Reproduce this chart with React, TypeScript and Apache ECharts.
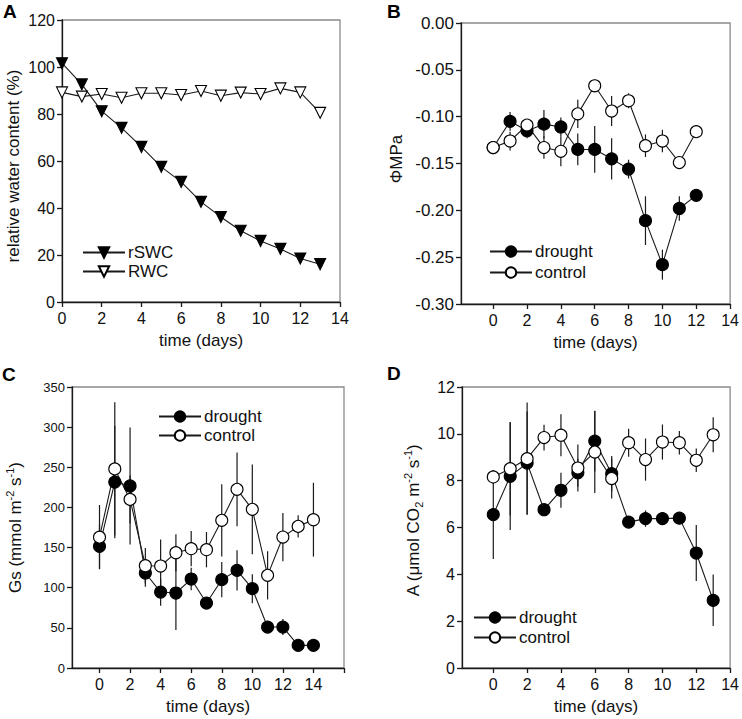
import React, { useEffect, useRef } from 'react';
import * as echarts from 'echarts';

// ---------- Panel A ----------
const daysA = [0, 1, 2, 3, 4, 5, 6, 7, 8, 9, 10, 11, 12, 13];
const rSWC = [101.6, 92.6, 81.2, 74.1, 66.0, 57.5, 51.1, 42.6, 36.2, 30.3, 26.0, 22.6, 18.5, 16.1];
const RWC = [89.2, 87.4, 88.5, 86.9, 88.8, 88.8, 88.1, 89.8, 87.8, 89.1, 88.5, 90.9, 89.2, 80.5];

// ---------- Panel B ----------
const daysB = [0, 1, 2, 3, 4, 5, 6, 7, 8, 9, 10, 11, 12];
const bDrought = [-0.133, -0.105, -0.115, -0.108, -0.111, -0.135, -0.135, -0.145, -0.156, -0.211, -0.258, -0.198, -0.184];
const bDroughtErr = [0.005, 0.01, 0.008, 0.015, 0.01, 0.017, 0.025, 0.022, 0.01, 0.026, 0.016, 0.013, 0.004];
const bControl = [-0.133, -0.126, -0.109, -0.133, -0.137, -0.097, -0.067, -0.094, -0.083, -0.131, -0.126, -0.149, -0.116];
const bControlErr = [0.004, 0.01, 0.004, 0.012, 0.016, 0.015, 0.007, 0.016, 0.008, 0.012, 0.012, 0.004, 0.003];

// ---------- Panel C ----------
const daysC = [0, 1, 2, 3, 4, 5, 6, 7, 8, 9, 10, 11, 12, 13, 14];
const cDrought = [151.5, 231.6, 226.7, 118.3, 94.6, 93.4, 110.8, 80.9, 110, 121.6, 98.8, 51, 51, 28.2, 28.2];
const cDroughtErr = [28, 70, 73, 17, 17, 46, 14, 5, 22, 25, 18, 5, 10, 3, 3];
const cControl = [163, 248, 210, 127.4, 127, 143.6, 148.6, 147.4, 183.9, 222.5, 197.6, 115.4, 163.1, 176.4, 184.7];
const cControlErr = [40, 83, 30, 22, 33, 23, 22, 22, 45, 46, 56, 30, 30, 14, 46];

// ---------- Panel D ----------
const daysD = [0, 1, 2, 3, 4, 5, 6, 7, 8, 9, 10, 11, 12, 13];
const dDrought = [6.55, 8.19, 8.75, 6.76, 7.59, 8.34, 9.69, 8.3, 6.23, 6.38, 6.38, 6.4, 4.91, 2.89];
const dDroughtErr = [1.9, 2.3, 2.2, 0.2, 0.75, 0.6, 1.3, 0.75, 0.15, 0.35, 0.2, 0.2, 1.2, 1.1];
const dControl = [8.16, 8.51, 8.94, 9.84, 9.94, 8.54, 9.22, 8.09, 9.62, 8.9, 9.65, 9.62, 8.87, 9.96];
const dControlErr = [0.3, 2.0, 2.4, 0.55, 0.9, 1.0, 1.75, 0.85, 0.6, 0.9, 0.75, 0.5, 0.5, 0.75];

const xTicks14 = [0, 2, 4, 6, 8, 10, 12, 14];
const xTicksC = [0, 2, 4, 6, 8, 10, 12, 14, 16];

const FONT = "'Liberation Sans', Arial, Helvetica, sans-serif";
const INK = '#1a1a1a';

const pts = (xs: number[], ys: number[]) => xs.map((x, i) => [x, ys[i]]);
const errs = (xs: number[], ys: number[], e: number[]) => xs.map((x, i) => [x, ys[i] - e[i], ys[i] + e[i]]);

const errRender = (_p: any, api: any) => {
  const x = api.value(0);
  const a = api.coord([x, api.value(1)]);
  const b = api.coord([x, api.value(2)]);
  return {
    type: 'line',
    shape: { x1: a[0], y1: a[1], x2: b[0], y2: b[1] },
    style: { stroke: INK, lineWidth: 1.2 },
  };
};

const errSeries = (idx: number, data: number[][]) => ({
  type: 'custom',
  xAxisIndex: idx,
  yAxisIndex: idx,
  renderItem: errRender,
  encode: { x: 0, y: [1, 2] },
  data,
  silent: true,
  z: 1,
});

const lineSeries = (idx: number, name: string, data: number[][], filled: boolean, symbol = 'circle', size = 12, rotate = 0) => ({
  type: 'line',
  name,
  xAxisIndex: idx,
  yAxisIndex: idx,
  data,
  symbol,
  symbolSize: size,
  symbolRotate: rotate,
  showAllSymbol: true,
  lineStyle: { color: INK, width: 1.1 },
  itemStyle: { color: filled ? '#000' : '#fff', borderColor: '#000', borderWidth: 1.1 },
  z: 3,
});

const axisCommon = {
  type: 'value',
  axisLine: { show: true, onZero: false, lineStyle: { color: INK, width: 1.3 } },
  axisTick: { show: true, inside: false, length: 5, lineStyle: { color: INK, width: 1.3 } },
  splitLine: { show: false },
  nameLocation: 'middle',
};

const xAxisFor = (idx: number, min: number, max: number, labels: number[], ticks: number[]) => ({
  ...axisCommon,
  gridIndex: idx,
  min,
  max,
  axisLabel: { fontSize: 16, color: '#111', margin: 8, fontFamily: FONT, customValues: labels, showMinLabel: true, showMaxLabel: true },
  axisTick: { ...axisCommon.axisTick, customValues: ticks },
  name: 'time (days)',
  nameGap: 30,
  nameTextStyle: { fontSize: 17, color: '#111', fontFamily: FONT },
});

const legendFor = (left: number, top: number, data: string[], gap: number) => ({
  left,
  top,
  padding: 0,
  orient: 'vertical',
  itemWidth: 42,
  itemHeight: 13,
  itemGap: gap,
  data,
  selectedMode: false,
  textStyle: { fontSize: 17, color: '#111', fontFamily: FONT, padding: [0, 0, 0, -2] },
  symbolRotate: 'inherit',
});

const gridBase = { show: true, borderColor: '#8a8a8a', borderWidth: 1.3, backgroundColor: 'transparent', containLabel: false };

const option: any = {
  animation: false,
  backgroundColor: '#fff',
  textStyle: { fontFamily: FONT },
  grid: [
    { ...gridBase, left: 62, top: 20, width: 278, height: 282 },
    { ...gridBase, left: 461, top: 23, width: 270, height: 281 },
    { ...gridBase, left: 72, top: 387, width: 272, height: 281 },
    { ...gridBase, left: 462, top: 387, width: 269, height: 281 },
  ],
  xAxis: [
    {
      ...axisCommon,
      gridIndex: 0,
      min: 0,
      max: 14,
      interval: 2,
      axisLabel: { fontSize: 16, color: '#111', margin: 8, fontFamily: FONT },
      name: 'time (days)',
      nameGap: 30,
      nameTextStyle: { fontSize: 17, color: '#111', fontFamily: FONT },
    },
    xAxisFor(1, -1.9, 14, xTicks14, xTicks14),
    xAxisFor(2, -1.8, 16, xTicks14, xTicksC),
    xAxisFor(3, -1.85, 14, xTicks14, xTicks14),
  ],
  yAxis: [
    {
      ...axisCommon,
      gridIndex: 0,
      min: 0,
      max: 120,
      interval: 20,
      axisLabel: { fontSize: 16, color: '#111', margin: 7, fontFamily: FONT },
      name: 'relative water content (%)',
      nameGap: 40,
      nameTextStyle: { fontSize: 17, color: '#111', fontFamily: FONT, padding: [0, 10, 0, 0] },
    },
    {
      ...axisCommon,
      gridIndex: 1,
      min: -0.3,
      max: 0,
      interval: 0.05,
      axisLabel: { fontSize: 17, color: '#111', margin: 7, fontFamily: FONT, formatter: (v: number) => v.toFixed(2) },
      name: 'ΦMPa',
      nameGap: 56,
      nameTextStyle: { fontSize: 17, color: '#111', fontFamily: FONT, padding: [0, 0, 0, 9] },
    },
    {
      ...axisCommon,
      gridIndex: 2,
      min: 0,
      max: 350,
      interval: 50,
      axisLabel: { fontSize: 13, color: '#111', margin: 7, fontFamily: FONT },
      name: '{n|Gs (mmol m}{sup|-2}{n| s}{sup|-1}{n|)}',
      nameGap: 48,
      nameTextStyle: {
        color: '#111',
        fontFamily: FONT,
        rich: {
          n: { fontSize: 17, lineHeight: 20, color: '#111', fontFamily: FONT, verticalAlign: 'bottom' },
          sup: { fontSize: 11, lineHeight: 20, color: '#111', fontFamily: FONT, verticalAlign: 'top' },
        },
      },
    },
    {
      ...axisCommon,
      gridIndex: 3,
      min: 0,
      max: 12,
      interval: 2,
      axisLabel: { fontSize: 16, color: '#111', margin: 7, fontFamily: FONT },
      name: '{n|A (μmol CO}{sub|2}{n| m}{sup|-2}{n| s}{sup|-1}{n|)}',
      nameGap: 38,
      nameTextStyle: {
        color: '#111',
        fontFamily: FONT,
        padding: [0, 0, 0, 14],
        rich: {
          n: { fontSize: 17, lineHeight: 22, color: '#111', fontFamily: FONT },
          sup: { fontSize: 11, lineHeight: 22, color: '#111', fontFamily: FONT, verticalAlign: 'top' },
          sub: { fontSize: 11, lineHeight: 22, color: '#111', fontFamily: FONT, verticalAlign: 'bottom' },
        },
      },
    },
  ],
  legend: [
    legendFor(82, 244, ['rSWC', 'RWC'], 2),
    legendFor(489, 243, ['drought', 'control'], 4),
    legendFor(158, 408, ['drought', 'control'], 2),
    legendFor(473, 609, ['drought', 'control'], 3),
  ],
  graphic: [
    { type: 'text', left: 3, top: 2, style: { text: 'A', fontSize: 19, fontWeight: 'bold', fill: '#000', fontFamily: FONT } },
    { type: 'text', left: 387, top: 2, style: { text: 'B', fontSize: 19, fontWeight: 'bold', fill: '#000', fontFamily: FONT } },
    { type: 'text', left: 2, top: 365, style: { text: 'C', fontSize: 19, fontWeight: 'bold', fill: '#000', fontFamily: FONT } },
    { type: 'text', left: 387, top: 364, style: { text: 'D', fontSize: 19, fontWeight: 'bold', fill: '#000', fontFamily: FONT } },
  ],
  series: [
    lineSeries(0, 'rSWC', pts(daysA, rSWC), true, 'triangle', 11, 180),
    lineSeries(0, 'RWC', pts(daysA, RWC), false, 'triangle', 11, 180),

    errSeries(1, errs(daysB, bDrought, bDroughtErr)),
    errSeries(1, errs(daysB, bControl, bControlErr)),
    lineSeries(1, 'drought', pts(daysB, bDrought), true),
    lineSeries(1, 'control', pts(daysB, bControl), false),

    errSeries(2, errs(daysC, cDrought, cDroughtErr)),
    errSeries(2, errs(daysC, cControl, cControlErr)),
    lineSeries(2, 'drought', pts(daysC, cDrought), true),
    lineSeries(2, 'control', pts(daysC, cControl), false),

    errSeries(3, errs(daysD, dDrought, dDroughtErr)),
    errSeries(3, errs(daysD, dControl, dControlErr)),
    lineSeries(3, 'drought', pts(daysD, dDrought), true),
    lineSeries(3, 'control', pts(daysD, dControl), false),
  ],
};

export default function App() {
  const ref = useRef<HTMLDivElement>(null);
  useEffect(() => {
    if (!ref.current) return;
    const chart = echarts.init(ref.current, null, { renderer: 'svg' });
    chart.setOption(option);
    return () => chart.dispose();
  }, []);
  return (
    <div
      ref={ref}
      style={{ position: 'absolute', left: 0, top: 0, width: 742, height: 719, background: '#fff' }}
    />
  );
}
